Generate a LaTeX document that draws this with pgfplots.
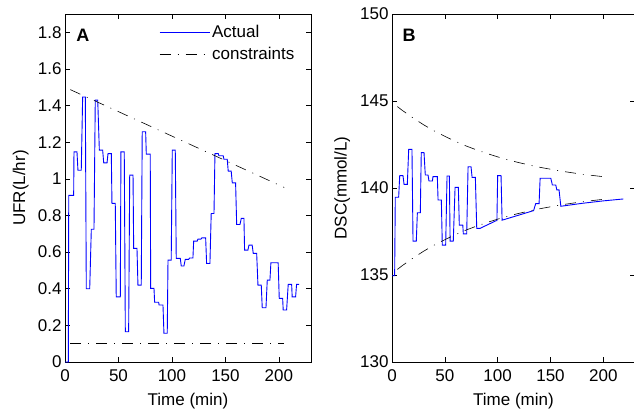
\documentclass[border=0pt]{standalone}
\usepackage{pgfplots}
\pgfplotsset{compat=1.18}
\usepackage{fontspec}
\setmainfont{Liberation Sans}

\definecolor{mblue}{RGB}{0,0,255}

\pgfplotsset{
  panel/.style={
    scale only axis, width=246pt, height=348pt,
    xmin=0, xmax=230, xtick={0,50,100,150,200},
    tick align=inside, major tick length=5pt,
    axis line style={line width=0.8pt},
    every tick/.style={black, line width=0.5pt},
    tick label style={font=\fontsize{17}{20}\selectfont},
    xticklabel style={yshift=-4pt},
    label style={font=\fontsize{17}{20}\selectfont},
    xlabel style={yshift=-5pt},
    /pgf/number format/assume math mode=true,
    xlabel={Time (min)},
  },
  actual/.style={mblue, line width=0.9pt},
  constr/.style={black, line width=0.6pt, dash pattern=on 11pt off 7pt on 1pt off 7pt},
}

\begin{document}
\begin{tikzpicture}
% panel A
\begin{axis}[panel, at={(65pt,46pt)}, anchor=south west,
  ymin=0, ymax=1.9, ytick={0,0.2,0.4,0.6,0.8,1,1.2,1.4,1.6,1.8},
  ylabel={UFR(L/hr)},
  ylabel style={at={(axis description cs:-0.18,0.5)}, anchor=center},
  legend style={draw=none, fill=none, at={(axis description cs:0.37,0.98)},
    anchor=north west, font=\fontsize{17}{20}\selectfont, row sep=4pt},
  legend cell align=left,
  legend image code/.code={\draw[#1] (0pt,0pt) -- (50pt,0pt);},
]
\addplot[actual] coordinates {
(0,0) (3.1,0) (3.5,0.91) (8.1,0.91) (8.4,1.147) (11.2,1.147) (12.1,1.047) (15.2,1.047)
(16.5,1.447) (19.0,1.447) (19.9,0.40) (23.1,0.40) (24.6,0.725) (27.1,0.725) (28.3,1.43)
(30.6,1.43) (32.1,1.157) (35.2,1.157) (36.2,1.087) (39.3,1.087) (40.2,1.138) (43.3,1.138)
(43.9,0.866) (47.0,0.866) (47.9,0.356) (51.7,0.356) (52.3,1.147) (55.4,1.147) (56.4,0.165)
(59.5,0.165) (60.5,1.02) (63.6,1.02) (64.2,0.62) (67.3,0.62) (68.2,0.42) (71.3,0.42)
(72.2,1.257) (75.4,1.257) (76.0,1.135) (79.7,1.135) (80.1,0.402) (83.2,0.402) (83.8,0.326)
(87.6,0.326) (87.9,0.311) (91.6,0.311) (92.5,0.157) (95.6,0.157) (96.3,0.556) (99.3,0.556)
(100.3,1.157) (103.1,1.157) (104.0,0.566) (107.8,0.566) (108.7,0.524) (111.2,0.524)
(112.4,0.56) (115.6,0.56) (116.5,0.568) (119.6,0.568) (120.3,0.66) (123.6,0.66)
(124.3,0.671) (127.1,0.671) (128.0,0.678) (131.5,0.678) (132.4,0.538) (135.5,0.538)
(136.7,0.811) (139.3,0.811) (140.2,1.138) (143.3,1.138) (143.9,1.126) (147.9,1.126)
(148.6,1.107) (151.7,1.107) (152.6,1.042) (155.4,1.042) (156.4,0.978) (159.5,0.978)
(160.5,0.751) (163.6,0.751) (164.8,0.784) (167.3,0.784) (167.9,0.611) (171.0,0.611)
(172.0,0.638) (175.0,0.638) (176.0,0.593) (179.2,0.593) (180.4,0.42) (183.5,0.42)
(184.4,0.296) (187.9,0.296) (189.1,0.447) (191.6,0.447) (192.5,0.542) (199.3,0.542)
(200.3,0.347) (203.5,0.347) (204.0,0.284) (207.2,0.284) (208.7,0.424) (211.9,0.424)
(212.4,0.356) (215.6,0.356) (216.5,0.424) (219.0,0.424)
};
\addlegendentry{Actual}
\addplot[constr] coordinates {(5,1.487) (205,0.953)};
\addlegendentry{constraints}
\addplot[constr, forget plot] coordinates {(5,0.1) (205,0.1)};
\node[font=\bfseries\fontsize{18}{21}\selectfont] at (axis description cs:0.073,0.94) {A};
\end{axis}
% panel B
\begin{axis}[panel, at={(392pt,46pt)}, anchor=south west, width=243pt,
  ymin=130, ymax=150, ytick={130,135,140,145,150},
  ylabel={DSC(mmol/L)},
  ylabel style={at={(axis description cs:-0.205,0.5)}, anchor=center},
]
\addplot[actual] coordinates {
(0,134.96) (2.5,134.96) (3.1,139.47) (6.3,139.47) (7.3,140.71) (10.4,140.71) (11.4,140.21)
(14.5,140.21) (15.8,142.22) (18.9,142.22) (19.9,136.95) (23,136.95) (24,138.58) (26.8,138.58)
(27.7,142.03) (30.3,142.03) (31.5,140.75) (34.1,140.75) (35,140.4) (38.2,140.4) (38.8,140.65)
(42.9,140.65) (43.6,139.31) (46.7,139.31) (47.6,136.72) (50.8,136.72) (52.1,140.69)
(54.3,140.69) (55,136.95) (58,136.95) (59.7,140.04) (62.8,140.04) (63.7,137.87) (67,137.87)
(67.5,137.36) (70.7,137.36) (72,141.22) (74.8,141.22) (75.8,140.61) (78.9,140.61)
(80.2,137.68) (83.3,137.68) (98.5,138.12) (99.3,138.12) (100,140.71) (103.2,140.71)
(104.2,138.15) (134,138.7) (136,139.1) (139.2,139.1) (140.2,140.56) (150.3,140.56)
(151.8,140.17) (155,140.17) (156,139.89) (158.1,139.89) (159.8,138.95) (180,139.12)
(200,139.26) (219,139.37)
};
\addplot[constr] coordinates {
(5,144.68) (10,144.45) (20,144.02) (30,143.63) (40,143.28) (50,142.97) (60,142.68)
(70,142.42) (80,142.19) (90,141.98) (100,141.79) (110,141.61) (120,141.46) (130,141.32)
(140,141.19) (150,141.08) (160,140.97) (170,140.88) (180,140.79) (190,140.72) (200,140.65)
};
\addplot[constr] coordinates {
(5,135.32) (10,135.55) (20,135.98) (30,136.37) (40,136.72) (50,137.03) (60,137.32)
(70,137.58) (80,137.81) (90,138.02) (100,138.21) (110,138.39) (120,138.54) (130,138.68)
(140,138.81) (150,138.92) (160,139.03) (170,139.12) (180,139.21) (190,139.28) (200,139.35)
};
\node[font=\bfseries\fontsize{18}{21}\selectfont] at (axis description cs:0.07,0.94) {B};
\end{axis}
\pgfresetboundingbox
\useasboundingbox (0,0) rectangle (634pt,408pt);
\end{tikzpicture}
\end{document}
